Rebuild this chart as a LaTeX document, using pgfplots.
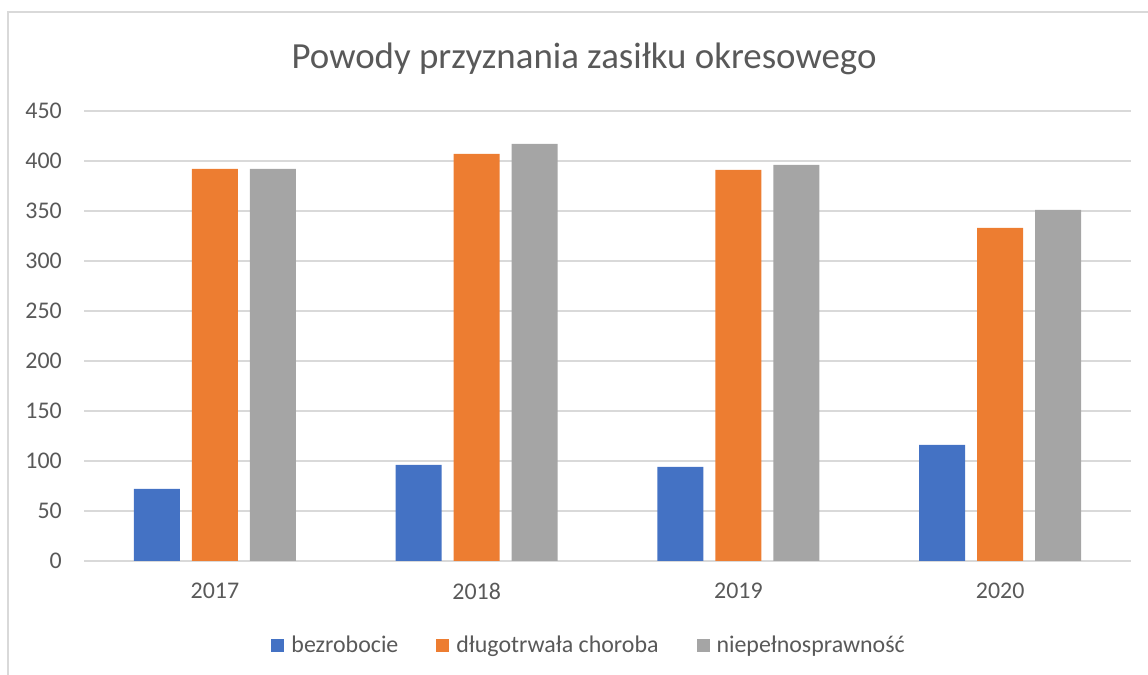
\documentclass[border=0pt]{standalone}
\usepackage{fontspec}
\setmainfont{Carlito}
\usepackage{pgfplots}
\pgfplotsset{compat=1.18}
\definecolor{cblue}{HTML}{4472C4}
\definecolor{corange}{HTML}{ED7D31}
\definecolor{cgray}{HTML}{A5A5A5}
\definecolor{gridc}{HTML}{D9D9D9}
\definecolor{textc}{HTML}{595959}
\begin{document}
\begin{tikzpicture}[x=1bp,y=1bp]
\path[use as bounding box] (0,0) rectangle (1148,675);
\draw[gridc, line width=1.2bp] (8,0) -- (8,663) -- (1148,663);
\begin{axis}[
  at={(84bp,114bp)}, anchor=south west,
  scale only axis, width=1047bp, height=450bp,
  xmin=-0.5, xmax=3.5, ymin=0, ymax=450,
  ytick={0,50,...,450},
  xtick={0,1,2,3}, xticklabels={2017,2018,2019,2020},
  ybar=12bp, bar width=46bp,
  axis line style={draw=none},
  ymajorgrids, grid style={gridc, line width=1.2bp},
  major tick length=0pt,
  /pgf/number format/assume math mode=true,
  tick label style={font=\fontsize{24}{28}\selectfont, text=textc, inner sep=0pt},
  yticklabel style={anchor=east, xshift=-22bp},
  xticklabel style={anchor=center, yshift=-30bp},
  title={Powody przyznania zasiłku okresowego},
  title style={at={(0.4776,1)}, anchor=center, yshift=46bp, font=\fontsize{37}{42}\selectfont, text=textc},
  legend style={at={(0.4815,-0.1867)}, anchor=center, draw=none, legend columns=-1,
    font=\fontsize{24}{28}\selectfont, text=textc,
    nodes={inner sep=0pt},
    /tikz/every odd column/.append style={column sep=7bp},
    /tikz/every even column/.append style={column sep=38bp}},
  legend image code/.code={\path[#1,draw=none] (0bp,-6.5bp) rectangle (13bp,6.5bp);},
  clip=false,
]
\addplot[fill=cblue, draw=none] coordinates {(0,72) (1,96) (2,94) (3,116)};
\addplot[fill=corange, draw=none] coordinates {(0,392) (1,407) (2,391) (3,333)};
\addplot[fill=cgray, draw=none] coordinates {(0,392) (1,417) (2,396) (3,351)};
\legend{bezrobocie, długotrwała choroba, niepełnosprawność}
\end{axis}
\end{tikzpicture}
\end{document}
